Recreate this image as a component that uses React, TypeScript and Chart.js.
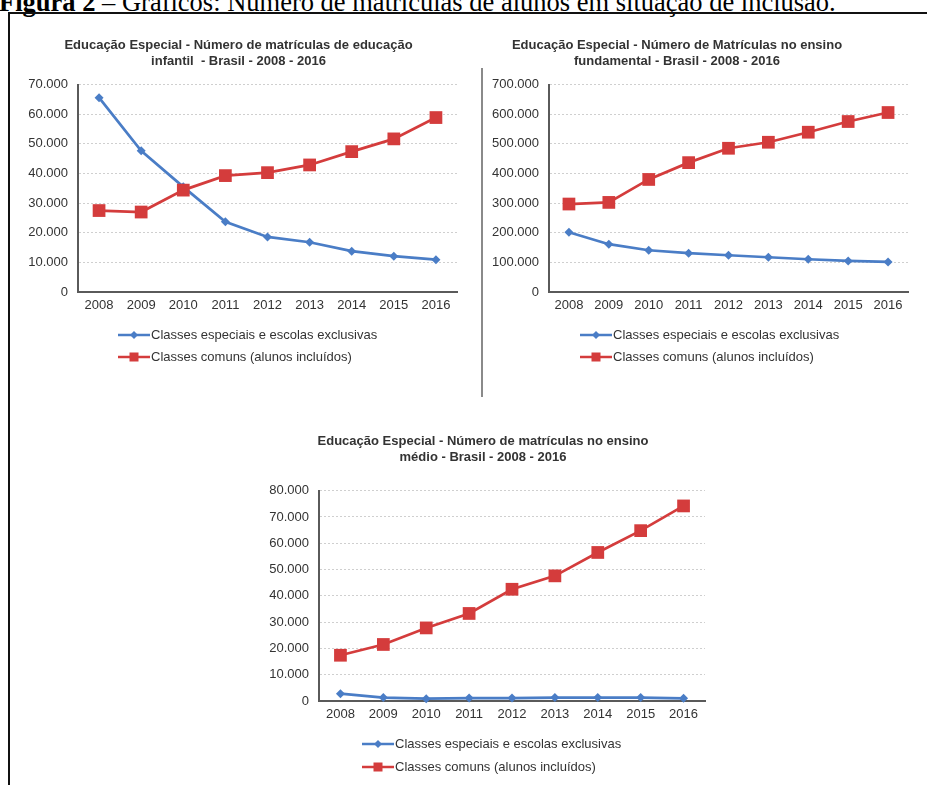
import React, { useEffect, useRef } from 'react';
import { Chart, registerables } from 'chart.js';

Chart.register(...registerables);

// ---------- data ----------
const years = ['2008', '2009', '2010', '2011', '2012', '2013', '2014', '2015', '2016'];
const seriesLabels = ['Classes especiais e escolas exclusivas', 'Classes comuns (alunos incluídos)'];

const infantilEspeciais = [65600, 47700, 35500, 23700, 18600, 16800, 13800, 12100, 10900];
const infantilComuns = [27500, 27000, 34400, 39300, 40300, 42900, 47400, 51700, 58900];

const fundamentalEspeciais = [202000, 161400, 141000, 131000, 124000, 117400, 110600, 105000, 101600];
const fundamentalComuns = [297000, 302500, 380000, 436800, 485300, 505600, 539500, 575600, 606000];

const medioEspeciais = [2800, 1300, 900, 1100, 1100, 1300, 1300, 1300, 1000];
const medioComuns = [17400, 21500, 27800, 33300, 42500, 47600, 56500, 64800, 74200];

const infantilTitle = ['Educação Especial - Número de matrículas de educação', 'infantil  - Brasil - 2008 - 2016'];
const fundamentalTitle = ['Educação Especial - Número de Matrículas no ensino', 'fundamental - Brasil - 2008 - 2016'];
const medioTitle = ['Educação Especial - Número de matrículas no ensino', 'médio - Brasil - 2008 - 2016'];

const figureCaptionBold = 'Figura 2';
const figureCaptionRest = ' – Gráficos: Número de matrículas de alunos em situação de inclusão.';

// ---------- styles ----------
const BLUE = '#4a7dc6';
const RED = '#d43c3c';
const AXIS = '#5a5a5a';
const GRID = '#cfcfcf';
const TEXT = '#333333';
const FONT = "'Liberation Sans', Arial, sans-serif";

const fmt = (v: number | string) =>
  String(Math.round(Number(v))).replace(/\B(?=(\d{3})+(?!\d))/g, '.');

const lineLegend = {
  id: 'lineLegend',
  afterDraw(chart: any, _args: any, opts: any) {
    const { ctx, chartArea } = chart;
    const len = 32;
    chart.data.datasets.forEach((ds: any, i: number) => {
      const x0 = opts.x;
      const y = chartArea.bottom + opts.y0 + i * opts.gap;
      ctx.save();
      ctx.strokeStyle = ds.borderColor;
      ctx.lineWidth = 2.5;
      ctx.beginPath();
      ctx.moveTo(x0, y);
      ctx.lineTo(x0 + len, y);
      ctx.stroke();
      ctx.fillStyle = ds.borderColor;
      const cx = x0 + len / 2;
      if (ds.pointStyle === 'rect') {
        ctx.fillRect(cx - 4.5, y - 4.5, 9, 9);
      } else {
        ctx.beginPath();
        ctx.moveTo(cx, y - 4);
        ctx.lineTo(cx + 4, y);
        ctx.lineTo(cx, y + 4);
        ctx.lineTo(cx - 4, y);
        ctx.closePath();
        ctx.fill();
      }
      ctx.fillStyle = TEXT;
      ctx.font = `13px ${FONT}`;
      ctx.textBaseline = 'middle';
      ctx.textAlign = 'left';
      ctx.fillText(ds.label, x0 + len + 1, y);
      ctx.restore();
    });
  },
};

type PanelProps = {
  left: number;
  top: number;
  width: number;
  height: number;
  title: string[];
  especiais: number[];
  comuns: number[];
  yMax: number;
  step: number;
  yAxisWidth: number;
  padRight: number;
  titlePadBottom: number;
  padBottom: number;
  legendX: number;
  legendGap: number;
};

function Panel(p: PanelProps) {
  const ref = useRef<HTMLCanvasElement>(null);
  useEffect(() => {
    const chart = new Chart(ref.current!, {
      type: 'line',
      data: {
        labels: years,
        datasets: [
          {
            label: seriesLabels[0],
            data: p.especiais,
            borderColor: BLUE,
            backgroundColor: BLUE,
            borderWidth: 2.7,
            pointStyle: 'rectRot',
            pointRadius: 4.5,
            pointBorderWidth: 0,
            pointBackgroundColor: BLUE,
            tension: 0,
            clip: false as any,
            order: 1,
          },
          {
            label: seriesLabels[1],
            data: p.comuns,
            borderColor: RED,
            backgroundColor: RED,
            borderWidth: 2.7,
            pointStyle: 'rect',
            pointRadius: 9,
            pointBorderWidth: 0,
            pointBackgroundColor: RED,
            tension: 0,
            clip: false as any,
            order: 0,
          },
        ],
      },
      options: {
        responsive: false,
        animation: false,
        devicePixelRatio: 1,
        layout: { padding: { left: 0, right: p.padRight, top: 0, bottom: p.padBottom } },
        plugins: {
          legend: { display: false },
          tooltip: { enabled: false },
          title: {
            display: true,
            text: p.title,
            color: TEXT,
            font: { family: FONT, size: 13, weight: 'bold', lineHeight: 1.18 },
            padding: { top: 3, bottom: p.titlePadBottom },
          },
          lineLegend: { x: p.legendX, y0: 43, gap: p.legendGap },
        } as any,
        scales: {
          x: {
            offset: true,
            grid: { display: false, drawTicks: false },
            border: { display: true, color: AXIS, width: 2 },
            ticks: { color: TEXT, font: { family: FONT, size: 13 }, padding: 6, maxRotation: 0 },
            afterFit: (s: any) => {
              s.height = 30;
            },
          },
          y: {
            min: 0,
            max: p.yMax,
            ticks: {
              stepSize: p.step,
              padding: 10,
              color: TEXT,
              font: { family: FONT, size: 13 },
              callback: (v: any) => fmt(v),
            },
            grid: { color: GRID, drawTicks: false, lineWidth: 1 },
            border: { display: true, color: AXIS, width: 2, dash: [2, 2] },
            afterFit: (s: any) => {
              s.width = p.yAxisWidth;
            },
          },
        },
      },
      plugins: [lineLegend as any],
    });
    return () => chart.destroy();
  }, []);
  return (
    <canvas
      ref={ref}
      width={p.width}
      height={p.height}
      style={{ position: 'absolute', left: p.left, top: p.top, width: p.width, height: p.height }}
    />
  );
}

export default function App() {
  return (
    <div
      style={{
        position: 'absolute',
        left: 0,
        top: 0,
        width: 927,
        height: 785,
        overflow: 'hidden',
        background: '#ffffff',
      }}
    >
      <div
        style={{
          position: 'absolute',
          left: -1,
          top: -11,
          whiteSpace: 'nowrap',
          fontFamily: "'Liberation Serif', 'Times New Roman', serif",
          fontSize: 26.5,
          lineHeight: '26px',
          color: '#000',
        }}
      >
        <b>{figureCaptionBold}</b>
        {figureCaptionRest}
      </div>
      <div
        style={{
          position: 'absolute',
          left: 8,
          top: 12,
          width: 940,
          height: 800,
          borderTop: '2px solid #111',
          borderLeft: '2px solid #111',
        }}
      />
      <div style={{ position: 'absolute', left: 481, top: 68, width: 2, height: 329, background: '#8a8a8a' }} />
      <Panel
        left={20}
        top={35}
        width={450}
        height={380}
        title={infantilTitle}
        especiais={infantilEspeciais}
        comuns={infantilComuns}
        yMax={70000}
        step={10000}
        yAxisWidth={58}
        padRight={13}
        titlePadBottom={16}
        padBottom={93}
        legendX={98}
        legendGap={22}
      />
      <Panel
        left={437}
        top={35}
        width={480}
        height={380}
        title={fundamentalTitle}
        especiais={fundamentalEspeciais}
        comuns={fundamentalComuns}
        yMax={700000}
        step={100000}
        yAxisWidth={112}
        padRight={0}
        titlePadBottom={16}
        padBottom={93}
        legendX={143}
        legendGap={22}
      />
      <Panel
        left={261}
        top={431}
        width={454}
        height={354}
        title={medioTitle}
        especiais={medioEspeciais}
        comuns={medioComuns}
        yMax={80000}
        step={10000}
        yAxisWidth={58}
        padRight={10}
        titlePadBottom={26}
        padBottom={54}
        legendX={101}
        legendGap={23}
      />
    </div>
  );
}
